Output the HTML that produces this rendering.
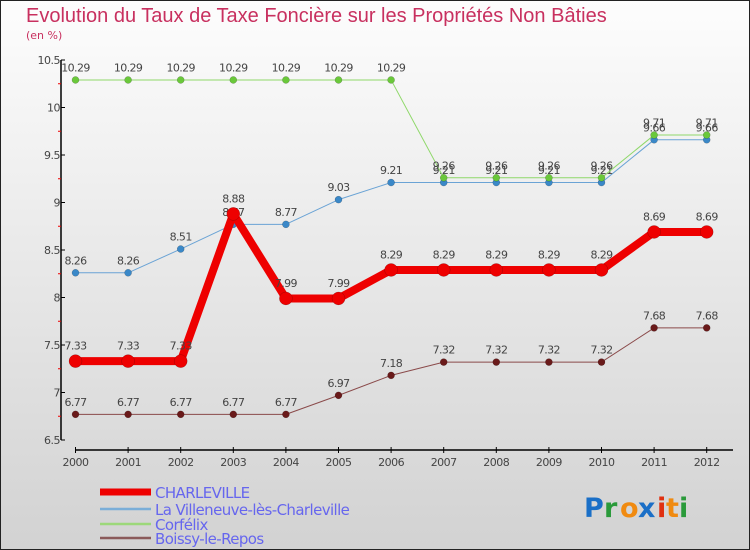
<!DOCTYPE html>
<html><head><meta charset="utf-8"><style>
body{margin:0;width:750px;height:550px;overflow:hidden;}
svg{display:block;font-family:"DejaVu Sans","Liberation Sans",sans-serif;}
</style></head><body>
<svg id="chart" width="750" height="550" viewBox="0 0 750 550">
<defs><linearGradient id="bg" x1="0" y1="0" x2="0" y2="1"><stop offset="0" stop-color="#fdfdfd"/><stop offset="1" stop-color="#d2d2d2"/></linearGradient></defs>
<rect x="0.5" y="0.5" width="749" height="549" fill="url(#bg)" stroke="#222"/>
<text x="26" y="22" font-size="20" fill="#c8305f" font-family="'Liberation Sans',sans-serif">Evolution du Taux de Taxe Foncière sur les Propriétés Non Bâties</text>
<text x="26" y="39" font-size="11" fill="#c8305f">(en %)</text>
<g id="axes"></g><g id="series"></g><g id="legend"></g>
<g font-size="27" font-weight="bold" font-family="'DejaVu Sans',sans-serif">
<text x="584" y="517" fill="#1a6fc7">P</text><text x="604" y="517" fill="#2a9a3a">r</text><text x="620" y="517" fill="#f08a10">o</text><text x="638" y="517" fill="#1a6fc7">x</text><text x="657" y="517" fill="#e03010">i</text><text x="666" y="517" fill="#f08a10">t</text><text x="679" y="517" fill="#2a9a3a">i</text>
</g>
</svg>
<script>
const years=[2000,2001,2002,2003,2004,2005,2006,2007,2008,2009,2010,2011,2012];
const charleville=[7.33,7.33,7.33,8.88,7.99,7.99,8.29,8.29,8.29,8.29,8.29,8.69,8.69];
const villeneuve=[8.26,8.26,8.51,8.77,8.77,9.03,9.21,9.21,9.21,9.21,9.21,9.66,9.66];
const corfelix=[10.29,10.29,10.29,10.29,10.29,10.29,10.29,9.26,9.26,9.26,9.26,9.71,9.71];
const boissy=[6.77,6.77,6.77,6.77,6.77,6.97,7.18,7.32,7.32,7.32,7.32,7.68,7.68];
const yTicks=[6.5,7,7.5,8,8.5,9,9.5,10,10.5];
const yTickLabels=["6.5","7","7.5","8","8.5","9","9.5","10","10.5"];
const seriesNames=["CHARLEVILLE","La Villeneuve-lès-Charleville","Corfélix","Boissy-le-Repos"];
const NS="http://www.w3.org/2000/svg";
function xS(i){return 75.5+i*52.6;}
function yS(v){return 440-(v-6.5)*95;}
function mk(tag,attrs,parent,txt){const e=document.createElementNS(NS,tag);for(const k in attrs)e.setAttribute(k,attrs[k]);if(txt!==undefined)e.textContent=txt;parent.appendChild(e);return e;}
const axes=document.getElementById('axes');
let e;
e=mk('line',{x1:61,y1:60,x2:61,y2:440,stroke:'#000','stroke-width':1.5},axes);


yTicks.forEach((t,i)=>{
 e=mk('line',{x1:61,y1:yS(t),x2:65,y2:yS(t),stroke:'#000'},axes);
 
 
 e=mk('text',{x:60,y:yS(t)+4,'font-size':11,fill:'#444','text-anchor':'end','letter-spacing':'-0.5'},axes,yTickLabels[i]);
 
 
 if(i<yTicks.length-1){
  e=mk('line',{x1:58,y1:yS(t+0.25),x2:61,y2:yS(t+0.25),stroke:'#e00'},axes);
  
  
 }
});
e=mk('line',{x1:75,y1:450,x2:733,y2:450,stroke:'#000','stroke-width':1.5},axes);


years.forEach((y,i)=>{
 e=mk('line',{x1:xS(i),y1:447,x2:xS(i),y2:453,stroke:'#000'},axes);
 
 
 e=mk('text',{x:xS(i),y:466,'font-size':11,fill:'#444','text-anchor':'middle','letter-spacing':'-0.5'},axes,String(y));
 
 
});
const ser=document.getElementById('series');
function draw(vals,color,w,r,dot,name){
 const g=mk('g',{},ser);
 
 
 const pl=mk('polyline',{points:vals.map((v,i)=>xS(i)+','+yS(v)).join(' '),fill:'none',stroke:color,'stroke-width':w,'stroke-linejoin':'round'},g);
 
 
 vals.forEach((v,i)=>{
  const c=mk('circle',{cx:xS(i),cy:yS(v),r:r,fill:dot,stroke:'rgba(0,0,0,0.3)','stroke-width':0.5},g);
  
  
  const t=mk('text',{x:xS(i),y:yS(v)-(r+5),'font-size':11,fill:'#444','text-anchor':'middle','letter-spacing':'-0.6'},g,v.toFixed(2).replace(/0$/,'').replace(/\.$/,''));
  
  
 });
}
draw(boissy,'#8a4a4a',1,3.5,'#6a1a1a','boissy');
draw(villeneuve,'#6aa3d5',1,3.5,'#3a88c8','villeneuve');
draw(corfelix,'#8fd86a',1,3.5,'#6ac83a','corfelix');
draw(charleville,'#ee0000',8,6.5,'#ee0000','charleville');
const leg=document.getElementById('legend');
const lc=['#ee0000','#7aaed8','#9cd87a','#8a5a5a'];const lw=[7,2.5,2.5,2.5];const ly=[492,509,524,538];
seriesNames.forEach((n,i)=>{
 const g=mk('g',{},leg);
 
 
 mk('line',{x1:100,y1:ly[i],x2:151,y2:ly[i],stroke:lc[i],'stroke-width':lw[i]},g);
 mk('text',{x:155,y:ly[i]+6,'font-size':15,fill:'#6666ee','letter-spacing':'-0.6'},g,n);
});
</script>
</body></html>
